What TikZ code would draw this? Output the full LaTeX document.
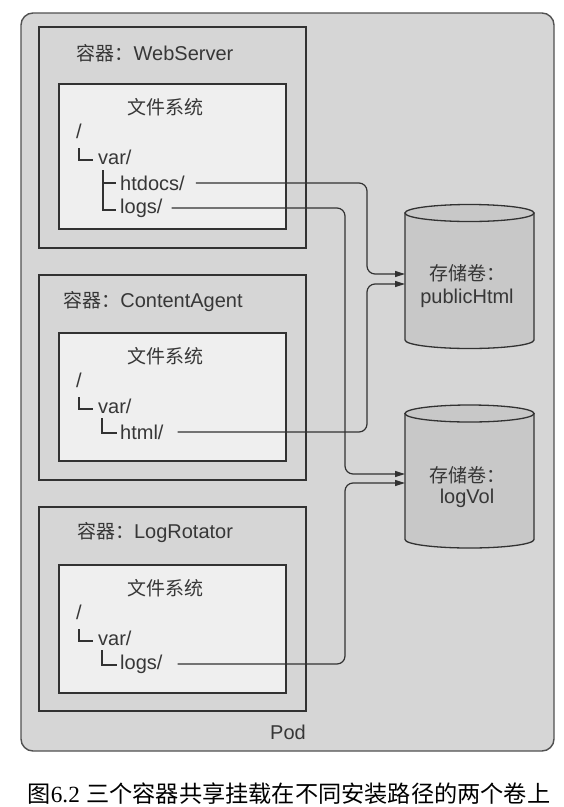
\documentclass[tikz,border=0pt]{standalone}
\usepackage{fontspec}
\setmainfont{Liberation Sans}
\newfontfamily\cjkfam{Noto Sans CJK SC}
\newcommand\zh[1]{{\fontsize{19}{23}\selectfont\cjkfam #1}}
\newfontfamily\capserif{Liberation Serif}
\usetikzlibrary{arrows.meta}
\definecolor{podfill}{RGB}{214,214,214}
\definecolor{innerfill}{RGB}{239,239,239}
\definecolor{cylfill}{RGB}{200,200,200}
\definecolor{linec}{RGB}{50,50,50}
\definecolor{txtc}{RGB}{55,55,55}
\begin{document}
\begin{tikzpicture}[x=1pt,y=-1pt,
  podbox/.style={draw=linec!85, line width=1.4pt, fill=podfill, rounded corners=12pt, anchor=north west, inner sep=0pt, outer sep=0pt},
  ctrbox/.style={draw=linec, line width=1.3pt, fill=podfill, anchor=north west, inner sep=0pt, outer sep=0pt, minimum width=267pt},
  fsbox/.style={draw=linec, line width=1.3pt, fill=innerfill, anchor=north west, inner sep=0pt, outer sep=0pt, minimum width=227pt},
  lbl/.style={text=txtc, font=\fontsize{20}{24}\selectfont, inner sep=0pt},
  item/.style={lbl, anchor=west},
  treeline/.style={draw=linec, line width=1.1pt},
  conn/.style={draw=linec, line width=1.2pt, rounded corners=8pt, -{Triangle[length=10pt,width=6pt]}},
  cylbody/.style={draw=linec, line width=1.3pt, fill=cylfill}
]
\useasboundingbox (0,0) rectangle (564,807);
\fill[white] (0,0) rectangle (564,807);

% Pod
\node[podbox, minimum width=533pt, minimum height=738pt] (pod) at (21,13) {};
\node[lbl] (podlbl) at (288,732) {Pod};

% Containers
\node[ctrbox, minimum height=221pt] (ws) at (39,27) {};
\node[ctrbox, minimum height=205pt] (ca) at (39,275) {};
\node[ctrbox, minimum height=204pt] (lr) at (39,507) {};

\node[lbl] (wstitle) at (155,53) {\zh{容器：}WebServer};
\node[lbl] (catitle) at (153,302) {\zh{容器：}ContentAgent};
\node[lbl] (lrtitle) at (155,533) {\zh{容器：}LogRotator};

% File system boxes
\node[fsbox, minimum height=145pt] (wsfs) at (59,84) {};
\node[fsbox, minimum height=128pt] (cafs) at (59,333) {};
\node[fsbox, minimum height=128pt] (lrfs) at (59,565) {};

% WebServer tree
\node[lbl] (wsfst) at (165,107) {\zh{文件系统}};
\node[item] (wsroot) at (76,131) {/};
\node[item] (wsvar) at (98,157) {var/};
\node[item] (htdocs) at (120,183) {htdocs/};
\node[item] (wslogs) at (120,208) {logs/};
\draw[treeline] (79,148) -- (79,160) -- (93,160);
\draw[treeline] (103,170) -- (103,210) -- (116,210);
\draw[treeline] (103,183) -- (116,183);

% ContentAgent tree
\node[lbl] (cafst) at (165,356) {\zh{文件系统}};
\node[item] (caroot) at (76,380) {/};
\node[item] (cavar) at (98,406) {var/};
\node[item] (html) at (120,432) {html/};
\draw[treeline] (79,397) -- (79,409) -- (93,409);
\draw[treeline] (102,418) -- (102,433) -- (117,433);

% LogRotator tree
\node[lbl] (lrfst) at (165,588) {\zh{文件系统}};
\node[item] (lrroot) at (76,612) {/};
\node[item] (lrvar) at (98,638) {var/};
\node[item] (lrlogs) at (120,664) {logs/};
\draw[treeline] (79,629) -- (79,641) -- (93,641);
\draw[treeline] (102,650) -- (102,665) -- (117,665);

% Volumes
\draw[cylbody] (405,213) -- (405,340) arc[start angle=180, end angle=0, x radius=64.5, y radius=8.5] -- (534,213) -- cycle;
\draw[cylbody] (469.5,213) ellipse[x radius=64.5, y radius=8.5];
\node[lbl] (pubtxt1) at (467,273) {\zh{存储卷：}};
\node[lbl] (pubtxt2) at (467,298) {publicHtml};

\draw[cylbody] (405,413.5) -- (405,539.5) arc[start angle=180, end angle=0, x radius=64.5, y radius=8.5] -- (534,413.5) -- cycle;
\draw[cylbody] (469.5,413.5) ellipse[x radius=64.5, y radius=8.5];
\node[lbl] (logtxt1) at (467,475) {\zh{存储卷：}};
\node[lbl] (logtxt2) at (467,498) {logVol};

% Connector end points
\coordinate (pubA) at (405,274);
\coordinate (pubB) at (405,284);
\coordinate (logA) at (405,474);
\coordinate (logB) at (405,483);
\coordinate (pubAj) at (367,274);
\coordinate (pubBj) at (367,284);
\coordinate (logAj) at (345,474);
\coordinate (logBj) at (345,483);

% Connectors
\draw[conn] ([xshift=11pt]htdocs.east) -| (pubAj) -- (pubA);
\draw[conn] ([xshift=9pt]wslogs.east) -| (logAj) -- (logA);
\draw[conn] ([xshift=14pt]html.east) -| (pubBj) -- (pubB);
\draw[conn] ([xshift=15pt]lrlogs.east) -| (logBj) -- (logB);

% Caption
\node[inner sep=0pt, text=black, font=\fontsize{23.2}{27}\selectfont] (caption) at (289,794) {{\cjkfam 图}{\capserif 6.2} {\cjkfam 三个容器共享挂载在不同安装路径的两个卷上}};
\end{tikzpicture}
\end{document}
